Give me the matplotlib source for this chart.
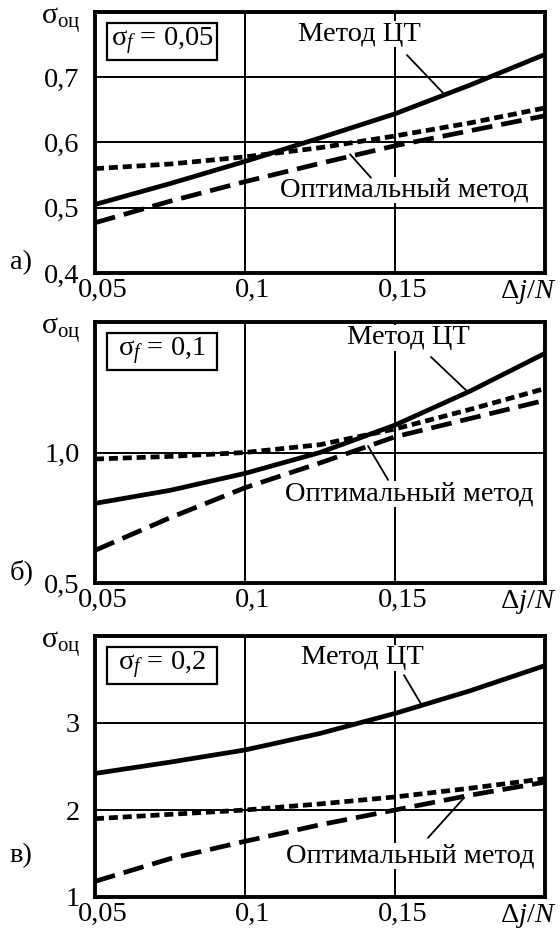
import matplotlib
matplotlib.use("Agg")
import matplotlib.pyplot as plt
from matplotlib.patches import Rectangle
from matplotlib.transforms import blended_transform_factory, ScaledTranslation

plt.rcParams['font.family'] = ['Liberation Serif', 'DejaVu Serif']
plt.rcParams['mathtext.fontset'] = 'custom'
plt.rcParams['mathtext.rm'] = 'Liberation Serif'
plt.rcParams['mathtext.it'] = 'Liberation Serif:italic'
plt.rcParams['lines.scale_dashes'] = False

# ---- data ----
x = [0.05, 0.075, 0.1, 0.125, 0.15, 0.175, 0.2]

ct_a = [0.505, 0.537, 0.571, 0.607, 0.644, 0.688, 0.735]
dot_a = [0.560, 0.567, 0.578, 0.592, 0.610, 0.630, 0.653]
opt_a = [0.477, 0.510, 0.540, 0.568, 0.595, 0.618, 0.641]

ct_b = [0.805, 0.855, 0.920, 1.000, 1.105, 1.235, 1.380]
dot_b = [0.975, 0.985, 1.000, 1.030, 1.090, 1.165, 1.245]
opt_b = [0.625, 0.750, 0.865, 0.960, 1.060, 1.130, 1.200]

ct_c = [2.42, 2.55, 2.69, 2.88, 3.11, 3.37, 3.66]
dot_c = [1.90, 1.95, 2.00, 2.07, 2.15, 2.25, 2.36]
opt_c = [1.18, 1.44, 1.64, 1.83, 2.00, 2.17, 2.32]

xticks = [0.05, 0.1, 0.15]
xticklabels = ['0,05', '0,1', '0,15']
xlabel = r'$\Delta\mathit{j}/\mathit{N}$'

panels = [
    dict(ct=ct_a, dot=dot_a, opt=opt_a, ylim=(0.4, 0.8),
         yticks=[0.4, 0.5, 0.6, 0.7], yticklabels=['0,4', '0,5', '0,6', '0,7'],
         sig='0,05', tag='а)', tag_y=0.04,
         ct_text=(0.138, 0.766), ct_line=((0.154, 0.734), (0.166, 0.676)),
         opt_text=(0.153, 0.527), opt_line=((0.142, 0.546), (0.135, 0.582))),
    dict(ct=ct_b, dot=dot_b, opt=opt_b, ylim=(0.5, 1.5),
         yticks=[0.5, 1.0], yticklabels=['0,5', '1,0'],
         sig='0,1', tag='б)', tag_y=0.04,
         ct_text=(0.1543, 1.44), ct_line=((0.162, 1.366), (0.174, 1.235)),
         opt_text=(0.1547, 0.842), opt_line=((0.1477, 0.895), (0.141, 1.025))),
    dict(ct=ct_c, dot=dot_c, opt=opt_c, ylim=(1, 4),
         yticks=[1, 2, 3], yticklabels=['1', '2', '3'],
         sig='0,2', tag='в)', tag_y=0.16,
         ct_text=(0.139, 3.75), ct_line=((0.153, 3.55), (0.159, 3.20)),
         opt_text=(0.155, 1.47), opt_line=((0.161, 1.68), (0.173, 2.14))),
]

fig = plt.figure(figsize=(5.6, 9.31), dpi=100)
left, width, height = 95 / 560, 450 / 560, 261 / 931
tops = [12, 322, 636]

FS = 20.5
FS_ANN = 20.5

for p, top in zip(panels, tops):
    bottom = 1 - (top + 261) / 931
    ax = fig.add_axes([left, bottom, width, height])
    ax.set_xlim(0.05, 0.2)
    ax.set_ylim(*p['ylim'])
    for s in ax.spines.values():
        s.set_linewidth(2.8)
    ax.set_xticks(xticks)
    ax.set_xticklabels([])
    ax.set_yticks(p['yticks'])
    ax.set_yticklabels(p['yticklabels'], fontsize=FS)
    ax.tick_params(length=0, pad=11)
    ax.grid(True, color='black', linewidth=1.4)
    ax.set_axisbelow(True)

    # x tick labels (slightly right-shifted as in the original)
    tr = blended_transform_factory(ax.transData, ax.transAxes) + \
        ScaledTranslation(8 / 100, -4 / 100, fig.dpi_scale_trans)
    for xv, lab in zip(xticks, xticklabels):
        ax.text(xv, -0.005, lab, transform=tr, ha='center', va='top', fontsize=FS)
    tr2 = ax.transAxes + ScaledTranslation(0, -4 / 100, fig.dpi_scale_trans)
    ax.text(1.025, -0.005, xlabel, transform=tr2, ha='right', va='top',
            fontsize=FS)

    ax.plot(x, p['ct'], color='black', lw=3.4, solid_capstyle='butt')
    ax.plot(x, p['dot'], color='black', lw=3.4, dashes=(6.5, 3.5),
            dash_capstyle='butt')
    ax.plot(x, p['opt'], color='black', lw=3.4, dashes=(15, 6.5),
            dash_capstyle='butt')

    # sigma label
    ax.text(-0.033, 0.97, r'$\mathrm{σ}_{\mathrm{оц}}$', transform=ax.transAxes,
            ha='right', va='center', fontsize=FS + 1)
    # panel tag
    ax.text(-0.164, p['tag_y'], p['tag'], transform=ax.transAxes,
            ha='center', va='center', fontsize=FS)

    # boxed sigma_f
    ax.add_patch(Rectangle((0.027, 0.816), 0.244, 0.142, transform=ax.transAxes,
                           fill=False, lw=1.6, ec='black', zorder=5))
    ax.text(0.149, 0.887, r'$\mathrm{σ}_{\mathit{f}}$' + ' = ' + p['sig'],
            transform=ax.transAxes, ha='center', va='center', fontsize=FS,
            zorder=6)

    # annotations
    ax.text(*p['ct_text'], 'Метод ЦТ', ha='center', va='center', fontsize=FS_ANN,
            bbox=dict(fc='white', ec='none', pad=0.5), zorder=1)
    ax.annotate('', xy=p['ct_line'][1], xytext=p['ct_line'][0],
                arrowprops=dict(arrowstyle='-', lw=1.3, color='black',
                                shrinkA=0, shrinkB=0))
    ax.text(*p['opt_text'], 'Оптимальный метод', ha='center', va='center',
            fontsize=FS_ANN, bbox=dict(fc='white', ec='none', pad=0.5), zorder=1)
    ax.annotate('', xy=p['opt_line'][1], xytext=p['opt_line'][0],
                arrowprops=dict(arrowstyle='-', lw=1.3, color='black',
                                shrinkA=0, shrinkB=0))

fig.savefig('out.png', dpi=100)
